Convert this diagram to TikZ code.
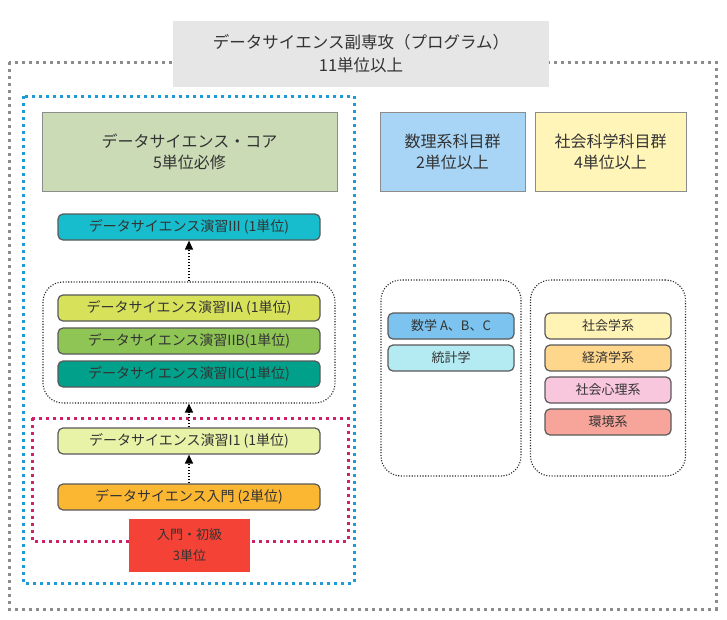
\documentclass[tikz,border=0pt]{standalone}
\usepackage{fontspec}
\setmainfont{Noto Sans CJK JP}
\usetikzlibrary{arrows.meta}
\definecolor{txt}{HTML}{333333}
\definecolor{titlefill}{HTML}{E6E6E6}
\definecolor{outerdot}{HTML}{8C8C8C}
\definecolor{bluedot}{HTML}{1E9BD7}
\definecolor{pinkdot}{HTML}{D0206A}
\definecolor{corefill}{HTML}{CADBB5}
\definecolor{cIII}{HTML}{17BDCC}
\definecolor{cIIA}{HTML}{D7E25A}
\definecolor{cIIB}{HTML}{8FC555}
\definecolor{cIIC}{HTML}{00A08A}
\definecolor{cI}{HTML}{E8F3A8}
\definecolor{cintro}{HTML}{FBB731}
\definecolor{cred}{HTML}{F44336}
\definecolor{cmath}{HTML}{A8D5F5}
\definecolor{csoc}{HTML}{FFF5B8}
\definecolor{cmathab}{HTML}{7CC3EF}
\definecolor{cstat}{HTML}{B4EBF3}
\definecolor{csocio}{HTML}{FFF3B5}
\definecolor{cecon}{HTML}{FFD78C}
\definecolor{cpsy}{HTML}{F8C6DD}
\definecolor{cenv}{HTML}{F7A59A}
\tikzset{
  bigbox/.style={draw=black!45, line width=0.8pt, text=txt, font=\fontsize{16}{21}\selectfont, align=center, inner sep=0pt},
  course/.style={draw=black!65, line width=1.2pt, rounded corners=5pt, text=txt, font=\fontsize{13}{16}\selectfont, inner sep=0pt, minimum height=26pt},
  wide/.style={font=\fontsize{14}{16}\selectfont},
  grp/.style={draw=black!85, line width=1.1pt, dash pattern=on 1.1pt off 1.6pt, rounded corners=20pt, inner sep=0pt},
  framedot/.style={line width=3pt, dash pattern=on 3pt off 4pt},
  arr/.style={-{Triangle[length=9pt,width=8pt]}, line width=1.3pt, dash pattern=on 1.3pt off 1.7pt, black}
}
\begin{document}
\begin{tikzpicture}[x=1pt,y=-1pt]
\useasboundingbox (0,0) rectangle (727,619);
% outer frame
\draw[framedot, outerdot] (9,62) rectangle (716,609);
% title
\node[fill=titlefill, text=txt, font=\fontsize{16.5}{23}\selectfont, align=center, minimum width=376pt, minimum height=66pt, inner sep=0pt] (title) at (361,54) {データサイエンス副専攻（プログラム）\\11単位以上};
% blue frame
\draw[framedot, bluedot] (23,96) rectangle (354,583);
% core
\node[bigbox, fill=corefill, minimum width=295pt, minimum height=79pt] (core) at (189.5,151.5) {データサイエンス・コア\\5単位必修};
\node[course, wide, fill=cIII, minimum width=262pt] (III) at (189,227) {データサイエンス演習III (1単位)};
\node[grp, minimum width=292pt, minimum height=121pt] (g2) at (189,342.5) {};
\node[course, wide, fill=cIIA, minimum width=262pt] (IIA) at (189,308) {データサイエンス演習IIA (1単位)};
\node[course, wide, fill=cIIB, minimum width=262pt] (IIB) at (189,341) {データサイエンス演習IIB(1単位)};
\node[course, wide, fill=cIIC, minimum width=262pt] (IIC) at (189,374) {データサイエンス演習IIC(1単位)};
% pink frame
\draw[framedot, pinkdot] (32,418) rectangle (348,541);
\node[course, wide, fill=cI, minimum width=262pt] (I1) at (189,441) {データサイエンス演習I1 (1単位)};
\node[course, wide, fill=cintro, minimum width=262pt] (intro) at (189,497) {データサイエンス入門 (2単位)};
\node[fill=cred, text=txt, font=\fontsize{13}{21}\selectfont, align=center, minimum width=121pt, minimum height=53pt, inner sep=0pt] (red) at (189.5,545.5) {入門・初級\\3単位};
% arrows
\draw[arr] (g2.north) -- (III.south);
\draw[arr] (I1.north) -- (g2.south);
\draw[arr] (intro.north) -- (I1.south);
% right side
\node[bigbox, fill=cmath, minimum width=145pt, minimum height=79pt] (math) at (452.5,151.5) {数理系科目群\\2単位以上};
\node[bigbox, fill=csoc, minimum width=151pt, minimum height=79pt] (soc) at (610.5,151.5) {社会科学科目群\\4単位以上};
\node[grp, minimum width=140pt, minimum height=196pt] (gl) at (451,378) {};
\node[grp, minimum width=155pt, minimum height=196pt] (gr) at (608,378) {};
\node[course, fill=cmathab, minimum width=126pt] (mab) at (451,326) {数学 A、B、C};
\node[course, fill=cstat, minimum width=126pt] (stat) at (451,358) {統計学};
\node[course, fill=csocio, minimum width=126pt] (socio) at (608,326) {社会学系};
\node[course, fill=cecon, minimum width=126pt] (econ) at (608,358) {経済学系};
\node[course, fill=cpsy, minimum width=126pt] (psy) at (608,390) {社会心理系};
\node[course, fill=cenv, minimum width=126pt] (env) at (608,422) {環境系};
\end{tikzpicture}
\end{document}
